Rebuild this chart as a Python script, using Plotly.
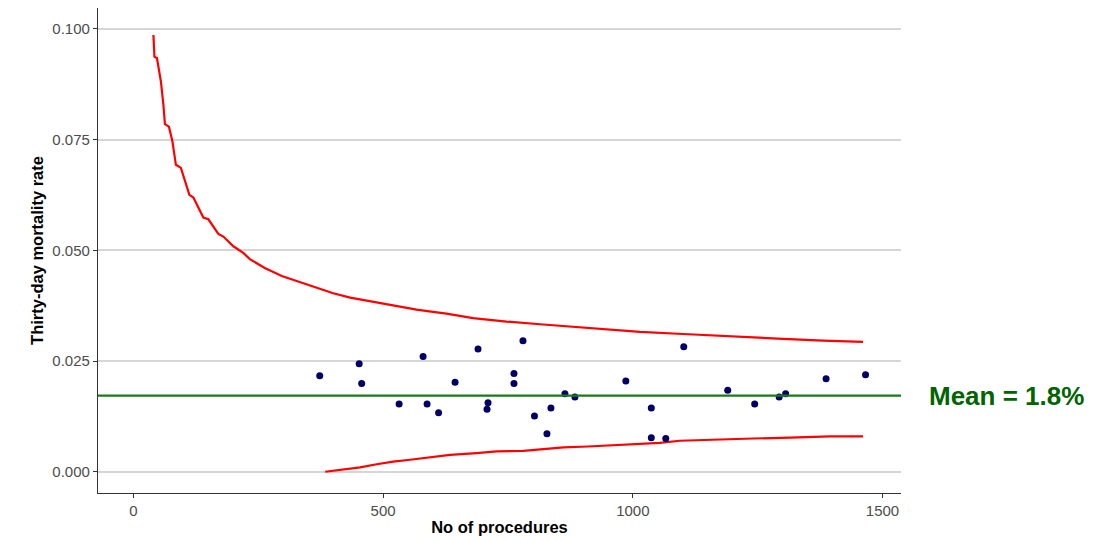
import plotly.graph_objects as go

# Hospitals: number of procedures and observed 30-day mortality rate
procedures = [373, 452, 457, 532, 580, 588, 611, 644, 690, 710, 708, 762, 762, 780,
              803, 828, 836, 864, 884, 986, 1037, 1037, 1066, 1102, 1190, 1244, 1293,
              1306, 1387, 1466]
mortality = [0.0217, 0.0244, 0.0199, 0.0153, 0.0260, 0.0153, 0.0133, 0.0202, 0.0277,
             0.0156, 0.0141, 0.0222, 0.0199, 0.0296, 0.0126, 0.0086, 0.0144, 0.0176,
             0.0169, 0.0205, 0.0144, 0.0077, 0.0075, 0.0282, 0.0184, 0.0153, 0.0169,
             0.0176, 0.0210, 0.0219]

# Upper control limit
upper_n = [40, 42, 47, 50, 55, 60, 63, 71, 78, 85, 95, 112, 120, 140, 150, 170, 180,
           200, 220, 233, 263, 297, 333, 367, 400, 434, 467, 500, 534, 567, 600, 627,
           680, 747, 814, 881, 948, 1014, 1101, 1201, 1301, 1381, 1461]
upper_limit = [0.0986, 0.0937, 0.0934, 0.0911, 0.0881, 0.0828, 0.0785, 0.0779, 0.0746,
               0.0693, 0.0686, 0.0625, 0.0619, 0.0574, 0.0570, 0.0537, 0.0531, 0.0509,
               0.0494, 0.0480, 0.0460, 0.0442, 0.0428, 0.0415, 0.0403, 0.0393, 0.0386,
               0.0379, 0.0372, 0.0366, 0.0361, 0.0357, 0.0347, 0.0339, 0.0333, 0.0327,
               0.0321, 0.0316, 0.0311, 0.0305, 0.0300, 0.0296, 0.0293]

# Lower control limit
lower_n = [384, 420, 454, 487, 520, 554, 587, 634, 687, 727, 781, 821, 861, 910, 944,
           994, 1054, 1094, 1168, 1241, 1315, 1395, 1461]
lower_limit = [0.0000, 0.0005, 0.0010, 0.0017, 0.0023, 0.0027, 0.0031, 0.0038, 0.0042,
               0.0046, 0.0047, 0.0051, 0.0055, 0.0057, 0.0059, 0.0062, 0.0065, 0.0070,
               0.0073, 0.0075, 0.0077, 0.0080, 0.0080]

mean_rate = 0.0172
mean_label = "Mean = 1.8%"

FONT = "Liberation Sans, Arial, sans-serif"

fig = go.Figure()

fig.add_trace(go.Scatter(x=upper_n, y=upper_limit, mode="lines",
                         line=dict(color="#ff0000", width=2.2), hoverinfo="skip"))
fig.add_trace(go.Scatter(x=lower_n, y=lower_limit, mode="lines",
                         line=dict(color="#ff0000", width=2.2), hoverinfo="skip"))

fig.add_hline(y=mean_rate, line=dict(color="#1a7a1a", width=2.2))

fig.add_trace(go.Scatter(x=procedures, y=mortality, mode="markers",
                         marker=dict(color="#000066", size=7),
                         hovertemplate="Procedures: %{x}<br>Rate: %{y:.3f}<extra></extra>"))

fig.add_annotation(text=mean_label, xref="paper", x=1.131, yref="y", y=mean_rate,
                   showarrow=False, xanchor="center", yanchor="middle",
                   font=dict(family=FONT, size=26, color="#006400", weight="bold"))

# page body adds an 8px margin, so the figure is sized to fit inside the window
fig.update_layout(
    width=1095, height=533,
    margin=dict(l=90, r=202, t=0, b=48),
    paper_bgcolor="white", plot_bgcolor="white",
    showlegend=False,
    font=dict(family=FONT),
)

fig.update_xaxes(
    range=[-71, 1537],
    tickvals=[0, 500, 1000, 1500],
    showgrid=False, zeroline=False, automargin=False,
    showline=True, linecolor="#333333", linewidth=1.2,
    ticks="outside", ticklen=4, tickcolor="#333333",
    tickfont=dict(size=15, color="#4d4d4d"),
    title=dict(text="<b>No of procedures</b>", font=dict(size=16.5, color="black"), standoff=3),
)

fig.update_yaxes(
    range=[-0.0048, 0.1047],
    tickvals=[0, 0.025, 0.05, 0.075, 0.1],
    ticktext=["0.000", "0.025", "0.050", "0.075", "0.100"],
    showgrid=True, gridcolor="#d6d6d6", gridwidth=1.5,
    zeroline=False, automargin=False,
    showline=True, linecolor="#333333", linewidth=1.2,
    ticks="outside", ticklen=4, tickcolor="#333333",
    tickfont=dict(size=15, color="#4d4d4d"),
    title=dict(text="<b>Thirty-day mortality rate</b>", font=dict(size=16.5, color="black"), standoff=4),
)

fig.write_html("out.html")
